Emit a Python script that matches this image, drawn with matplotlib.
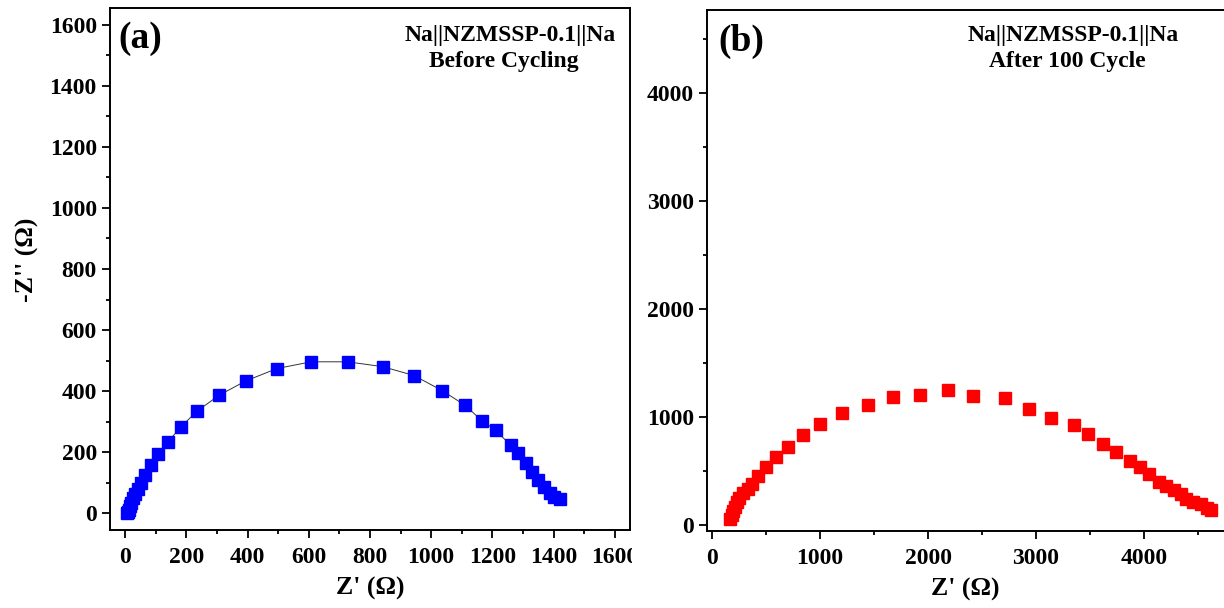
import matplotlib
matplotlib.use("Agg")
import matplotlib.pyplot as plt
from matplotlib.patches import Rectangle
from matplotlib.ticker import MultipleLocator

# (a) Na||NZMSSP-0.1||Na before cycling
z_re_before = [6, 8, 11, 15, 20, 26, 33, 42, 52, 65, 85, 107, 140, 181, 234, 306,
               393, 496, 608, 727, 842, 944, 1037, 1110, 1166, 1212, 1260, 1283,
               1311, 1330, 1350, 1369, 1388, 1402, 1421]
z_im_before = [0, 5, 12, 22, 35, 50, 64, 80, 100, 125, 157, 193, 234, 282, 334, 386,
               433, 474, 496, 496, 480, 451, 401, 354, 303, 271, 222, 198,
               164, 136, 108, 86, 67, 53, 45]

# (b) after 100 cycles
z_re_after = [171, 181, 196, 210, 231, 252, 288, 331, 366, 430, 501, 590, 700, 839,
              1003, 1205, 1440, 1678, 1927, 2187, 2418, 2713, 2934, 3140, 3353,
              3485, 3624, 3737, 3869, 3958, 4050, 4136, 4207, 4278, 4342, 4385,
              4456, 4527, 4580, 4616]
z_im_after = [52, 89, 129, 169, 212, 249, 298, 338, 382, 452, 535, 628, 726, 831,
              938, 1034, 1111, 1185, 1203, 1255, 1191, 1175, 1071, 991, 929,
              843, 754, 677, 591, 535, 474, 400, 360, 329, 289, 237,
              218, 191, 160, 138]

cell_name = "Na||NZMSSP-0.1||Na"
cond_labels = ["Before Cycling", "After 100 Cycle"]

plt.rcParams["font.family"] = ["Liberation Serif", "DejaVu Serif"]
plt.rcParams["font.weight"] = "bold"

W, H = 1224, 608
fig = plt.figure(figsize=(W / 100, H / 100), dpi=100)


def px_axes(l, t, r, b):
    return [l / W, 1 - b / H, (r - l) / W, (b - t) / H]


ax_a = fig.add_axes(px_axes(110, 8, 630, 530))
ax_b = fig.add_axes(px_axes(707, 10, 1224, 531))
ax_a.set_zorder(0)
ax_b.set_zorder(1)

# white strip that crops panel (a) like the original composite
fig.add_artist(Rectangle((632 / W, 0), 1, 1, transform=fig.transFigure,
                         facecolor="white", edgecolor="none", zorder=0.5))

ax_a.plot(z_re_before, z_im_before, color="#333333", lw=0.7, zorder=1)
ax_a.plot(z_re_before, z_im_before, ls="none", marker="s", ms=8.5,
          color="#0000ff", zorder=2)
ax_b.plot(z_re_after, z_im_after, ls="none", marker="s", ms=8.5,
          color="#ff0000", zorder=2)

ax_a.set_xlim(-50, 1650)
ax_a.set_ylim(-55, 1655)
ax_a.xaxis.set_major_locator(MultipleLocator(200))
ax_a.xaxis.set_minor_locator(MultipleLocator(100))
ax_a.yaxis.set_major_locator(MultipleLocator(200))
ax_a.yaxis.set_minor_locator(MultipleLocator(100))

ax_b.set_xlim(-46, 4740)
ax_b.set_ylim(-55, 4770)
ax_b.xaxis.set_major_locator(MultipleLocator(1000))
ax_b.xaxis.set_minor_locator(MultipleLocator(500))
ax_b.yaxis.set_major_locator(MultipleLocator(1000))
ax_b.yaxis.set_minor_locator(MultipleLocator(500))
ax_b.spines["right"].set_visible(False)

for ax in (ax_a, ax_b):
    for sp in ax.spines.values():
        sp.set_linewidth(1.4)
    ax.tick_params(which="both", direction="out", width=1.3, top=False, right=False)
    ax.tick_params(which="major", length=5.5, labelsize=17)
    ax.tick_params(which="minor", length=3)
    ax.tick_params(axis="x", pad=7)
    ax.tick_params(axis="y", pad=4)
    for lab in ax.get_xticklabels() + ax.get_yticklabels():
        lab.set_fontweight("bold")
    ax.set_xlabel("Z' (\u03a9)", fontsize=18.5, fontweight="bold", labelpad=6)

ax_a.set_ylabel("-Z'' (\u03a9)", fontsize=18.5, fontweight="bold")
ax_a.yaxis.set_label_coords(-0.136, 0.517)

fig.text(140 / W, 1 - 39 / H, "(a)", fontsize=27, fontweight="bold",
         ha="center", va="center")
fig.text(741 / W, 1 - 41 / H, "(b)", fontsize=27, fontweight="bold",
         ha="center", va="center")

for cx, lab in [(510, cond_labels[0]), (1073, cond_labels[1])]:
    fig.text(cx / W, 1 - 36 / H, cell_name, fontsize=17, fontweight="bold",
             ha="center", va="center")
    fig.text((cx - 6) / W, 1 - 62 / H, lab, fontsize=17, fontweight="bold",
             ha="center", va="center")

fig.savefig("out.png", dpi=100)
